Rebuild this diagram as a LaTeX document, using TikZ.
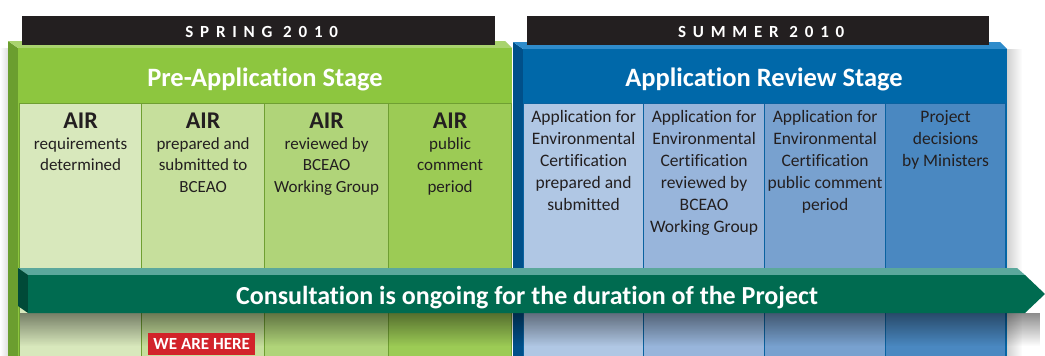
\documentclass[tikz,border=0pt]{standalone}
\usepackage{fontspec}
\setmainfont{Carlito}[Ligatures=NoCommon]
\newfontfamily\spacedfont[LetterSpace=40,Ligatures=NoCommon]{Carlito}
\usetikzlibrary{fadings}
\definecolor{gside}{HTML}{6B9E2F}
\definecolor{gtop}{HTML}{A9D36E}
\definecolor{gmain}{HTML}{8DC63F}
\definecolor{gline}{HTML}{6F9F32}
\definecolor{gcA}{HTML}{D8E8BC}
\definecolor{gcB}{HTML}{C6DF9C}
\definecolor{gcC}{HTML}{B0D479}
\definecolor{gcD}{HTML}{9CCB55}
\definecolor{bmain}{HTML}{0068A9}
\definecolor{btop}{HTML}{2F8CCB}
\definecolor{bside}{HTML}{00508A}
\definecolor{bline}{HTML}{0A62A0}
\definecolor{bcA}{HTML}{B0C7E4}
\definecolor{bcB}{HTML}{98B5DB}
\definecolor{bcC}{HTML}{78A1CF}
\definecolor{bcD}{HTML}{4A88C1}
\definecolor{tbody}{HTML}{006B50}
\definecolor{ttop}{HTML}{5BA89C}
\definecolor{tside}{HTML}{004A38}
\definecolor{herered}{HTML}{D2232A}
\definecolor{barblack}{HTML}{231F20}
\definecolor{txt}{HTML}{231F20}
\begin{document}
\begin{tikzpicture}[x=1pt,y=-1pt,
  gcell/.style={draw=gline, line width=1.2pt, minimum height=253, anchor=north west, inner sep=0},
  bcell/.style={draw=bline, line width=1.2pt, minimum height=253, anchor=north west, inner sep=0},
  airlbl/.style={anchor=base, font=\fontsize{24}{26}\selectfont\bfseries, text=txt, inner sep=0},
  celltext/.style={anchor=north, align=center, font=\fontsize{17}{21.5}\selectfont, text=txt, inner sep=0},
  bluetext/.style={anchor=north, align=center, font=\fontsize{17.5}{22}\selectfont, text=txt, inner sep=0},
  stagetitle/.style={anchor=base, font=\fontsize{26.5}{28}\selectfont\bfseries, text=white, inner sep=0},
  seasonbar/.style={fill=barblack, draw=none, anchor=north west, minimum height=29, inner sep=0},
  seasontext/.style={anchor=base, font=\spacedfont\bfseries\fontsize{17}{18}\selectfont, text=white, inner sep=0}
]
\useasboundingbox (0,0) rectangle (1045,356);
\fill[white] (0,0) rectangle (1045,356);
% soft outer shadows
\fill[black!12, path fading=west] (0,48) rectangle (8,356);
\fill[black!18, path fading=east] (1007,49) rectangle (1022,356);

% green stage box
\fill[gside] (8,41) -- (18,48) -- (18,356) -- (8,356) -- cycle;
\fill[gtop] (8,41) -- (505,41) -- (512,48) -- (18,48) -- cycle;
\fill[gmain] (18,48) rectangle (512,356);
% blue stage box
\fill[bside] (513,42) -- (523,49) -- (523,356) -- (513,356) -- cycle;
\fill[btop] (513,42) -- (1000,42) -- (1007,49) -- (523,49) -- cycle;
\fill[bmain] (523,49) rectangle (1007,356);

% season bars
\node[seasonbar, minimum width=473] (spring) at (22,16) {};
\node[seasonbar, minimum width=462] (summer) at (527,16) {};
\node[seasontext] (springtxt) at ([xshift=3,yshift=8]spring.south) {SPRING 2010};
\node[seasontext] (summertxt) at ([xshift=3,yshift=8]summer.south) {SUMMER 2010};

% titles
\node[stagetitle] (pretitle) at (265,86) {Pre-Application Stage};
\node[stagetitle] (revtitle) at (764,86) {Application Review Stage};

% green cells
\node[gcell, fill=gcA, minimum width=122] (g1) at (19,103) {};
\node[gcell, fill=gcB, minimum width=123] (g2) at (141,103) {};
\node[gcell, fill=gcC, minimum width=124] (g3) at (264,103) {};
\node[gcell, fill=gcD, minimum width=123] (g4) at (388,103) {};
% blue cells
\node[bcell, fill=bcA, minimum width=120] (b1) at (523,103) {};
\node[bcell, fill=bcB, minimum width=121] (b2) at (643,103) {};
\node[bcell, fill=bcC, minimum width=121] (b3) at (764,103) {};
\node[bcell, fill=bcD, minimum width=120] (b4) at (885,103) {};

% green texts
\node[airlbl] (a1) at ([yshift=-25]g1.north) {AIR};
\node[airlbl] (a2) at ([yshift=-25]g2.north) {AIR};
\node[airlbl] (a3) at ([yshift=-25]g3.north) {AIR};
\node[airlbl] (a4) at ([yshift=-25]g4.north) {AIR};
\node[celltext] (t1) at ([yshift=-31]g1.north) {\strut requirements\\determined};
\node[celltext] (t2) at ([yshift=-31]g2.north) {\strut prepared and\\submitted to\\BCEAO};
\node[celltext] (t3) at ([yshift=-31]g3.north) {\strut reviewed by\\BCEAO\\Working Group};
\node[celltext] (t4) at ([yshift=-31]g4.north) {\strut public\\comment\\period};
% blue texts
\node[bluetext] (u1) at ([yshift=-4]b1.north) {\strut Application for\\Environmental\\Certification\\prepared and\\submitted};
\node[bluetext] (u2) at ([yshift=-4]b2.north) {\strut Application for\\Environmental\\Certification\\reviewed by\\BCEAO\\Working Group};
\node[bluetext] (u3) at ([yshift=-4]b3.north) {\strut Application for\\Environmental\\Certification\\public comment\\period};
\node[bluetext] (u4) at ([yshift=-4]b4.north) {\strut Project\\decisions\\by Ministers};

% shadow below the consultation arrow
\fill[black, opacity=0.45, path fading=south] (20,313) rectangle (1040,346);

% consultation arrow
\fill[ttop] (18,268) -- (1017,268) -- (1025,275) -- (28,275) -- cycle;
\fill[tside] (18,268) -- (28,275) -- (28,313) -- (18,306) -- cycle;
\fill[tbody] (28,275) -- (1025,275) -- (1045,294) -- (1025,313) -- (28,313) -- cycle;
\node[anchor=base, font=\fontsize{26}{28}\selectfont\bfseries, text=white, inner sep=0] (consult) at (527,304) {Consultation is ongoing for the duration of the Project};

% we are here
\node[fill=herered, anchor=north west, minimum width=107, minimum height=22, inner sep=0,
      font=\fontsize{17}{18}\selectfont\bfseries, text=white] (here) at (148,333) {WE ARE HERE};
\end{tikzpicture}
\end{document}
